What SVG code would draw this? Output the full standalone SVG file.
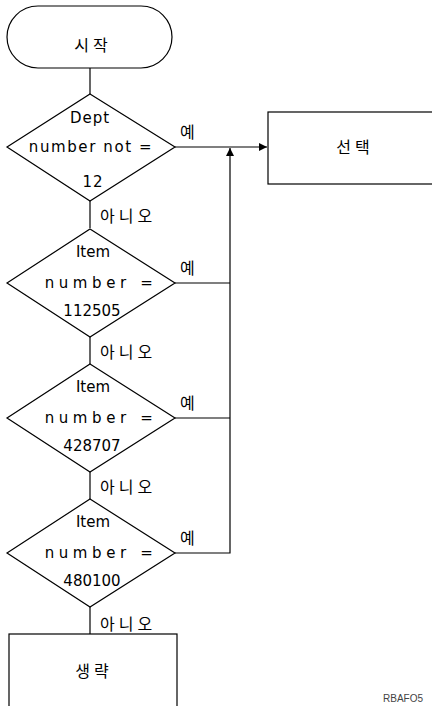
<svg xmlns="http://www.w3.org/2000/svg" width="432" height="706" viewBox="0 0 432 706">
<style>
.s{fill:#fff;stroke:#000;stroke-width:1.2}
.l{fill:none;stroke:#000;stroke-width:1.2}
.k{font-family:"Noto Sans CJK KR","Noto Sans",sans-serif;font-size:16px;fill:#000}
.t{font-family:"DejaVu Sans","Liberation Sans",sans-serif;font-size:15px;fill:#000;text-anchor:middle}
.w{letter-spacing:4px}
</style>
<defs>
<marker id="a" markerWidth="8" markerHeight="8" refX="8" refY="4" orient="auto" markerUnits="userSpaceOnUse">
<path d="M0,0 L8,4 L0,8 z" fill="#000"/>
</marker>
</defs>
<g id="connectors">
<path class="l" d="M90,68 V94"/>
<path class="l" d="M90,201 V228"/>
<path class="l" d="M90,337 V364"/>
<path class="l" d="M90,472 V499"/>
<path class="l" d="M90,607 V634"/>
<path class="l" d="M175,147 H267" marker-end="url(#a)"/>
<path class="l" d="M175,283 H230"/>
<path class="l" d="M175,418 H230"/>
<path class="l" d="M175,553 H230 V148" marker-end="url(#a)"/>
<text class="k" x="180" y="138">예</text>
<text class="k" x="180" y="274">예</text>
<text class="k" x="180" y="409">예</text>
<text class="k" x="180" y="544">예</text>
<text class="k w" x="100" y="222">아니오</text>
<text class="k w" x="100" y="358">아니오</text>
<text class="k w" x="100" y="493">아니오</text>
<text class="k w" x="100" y="630">아니오</text>
</g>
<g id="start">
<rect class="s" x="7" y="6" width="165" height="62" rx="31" ry="31"/>
<text class="k w" x="93" y="51" text-anchor="middle">시작</text>
</g>
<g id="d1">
<path class="s" d="M90,94 L175,147 L90,201 L7,147 z"/>
<text class="t" x="90" y="123" letter-spacing="1">Dept</text>
<text class="t" x="91" y="152" letter-spacing="1.6">number not =</text>
<text class="t" x="93" y="187" letter-spacing="1">12</text>
</g>
<g id="d2">
<path class="s" d="M90,229 L175,283 L90,337 L7,283 z"/>
<text class="t" x="93" y="257">Item</text>
<text class="t" x="101" y="288" letter-spacing="4.6">number  =</text>
<text class="t" x="92" y="316">112505</text>
</g>
<g id="d3">
<path class="s" d="M90,364 L175,418 L90,472 L7,418 z"/>
<text class="t" x="93" y="392">Item</text>
<text class="t" x="101" y="423" letter-spacing="4.6">number  =</text>
<text class="t" x="92" y="451">428707</text>
</g>
<g id="d4">
<path class="s" d="M90,499 L175,553 L90,607 L7,553 z"/>
<text class="t" x="93" y="527">Item</text>
<text class="t" x="101" y="558" letter-spacing="4.6">number  =</text>
<text class="t" x="92" y="586">480100</text>
</g>
<g id="select">
<rect class="s" x="268" y="112" width="170" height="72"/>
<text class="k w" x="355" y="153" text-anchor="middle">선택</text>
</g>
<g id="omit">
<rect class="s" x="9" y="634" width="168" height="80"/>
<text class="k w" x="94" y="677" text-anchor="middle">생략</text>
</g>
<text x="383" y="702" font-family="Liberation Sans,sans-serif" font-size="10" fill="#444">RBAFO5</text>
</svg>
